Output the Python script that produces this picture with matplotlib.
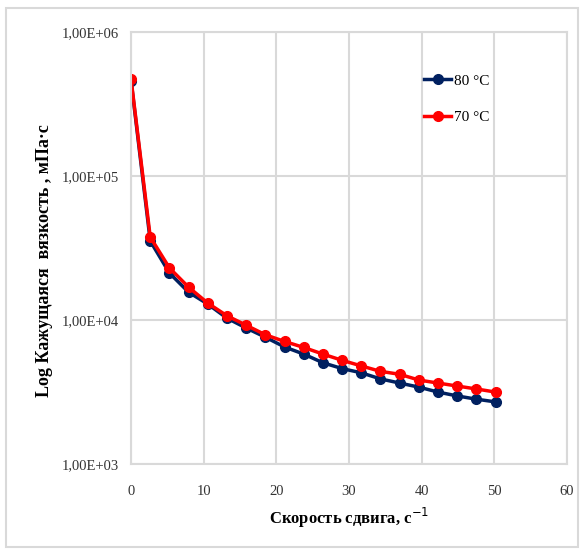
import numpy as np
import matplotlib.pyplot as plt
from matplotlib.ticker import FuncFormatter, NullLocator, FixedLocator
from matplotlib.patches import Rectangle

# shear rate, 1/s
shear = [0.01, 2.65, 5.29, 7.93, 10.57, 13.21, 15.85, 18.49, 21.13, 23.77,
         26.41, 29.05, 31.69, 34.33, 36.97, 39.61, 42.25, 44.89, 47.53, 50.17]
# apparent viscosity, mPa*s
visc_80 = [4.6e5, 3.54e4, 2.12e4, 1.56e4, 1.29e4, 1.03e4, 8.8e3, 7.6e3, 6.5e3, 5.8e3,
           5.05e3, 4.6e3, 4.3e3, 3.9e3, 3.65e3, 3.42e3, 3.16e3, 2.97e3, 2.82e3, 2.70e3]
visc_70 = [4.7e5, 3.77e4, 2.30e4, 1.69e4, 1.31e4, 1.07e4, 9.2e3, 7.9e3, 7.1e3, 6.45e3,
           5.8e3, 5.25e3, 4.8e3, 4.4e3, 4.2e3, 3.83e3, 3.65e3, 3.48e3, 3.32e3, 3.16e3]

serif = ['Liberation Serif', 'DejaVu Serif']

fig = plt.figure(figsize=(5.84, 5.53), dpi=100)
ax = fig.add_axes([0.2243, 0.1609, 0.7466, 0.7812])

ax.plot(shear, visc_80, color='#002060', lw=2.5, marker='o', ms=7, label='80 °C')
ax.plot(shear, visc_70, color='#ff0000', lw=2.5, marker='o', ms=7, label='70 °C')

ax.set_yscale('log')
ax.set_xlim(0, 60)
ax.set_ylim(1e3, 1e6)
ax.xaxis.set_major_locator(FixedLocator([0, 10, 20, 30, 40, 50, 60]))
ax.yaxis.set_major_locator(FixedLocator([1e3, 1e4, 1e5, 1e6]))
ax.yaxis.set_minor_locator(NullLocator())
ax.yaxis.set_major_formatter(FuncFormatter(lambda v, p: '1,00E+%02d' % round(np.log10(v))))

ax.grid(True, color='#d9d9d9', lw=1.5)
for s in ax.spines.values():
    s.set_color('#d9d9d9')
    s.set_linewidth(1.5)
ax.tick_params(axis='y', length=0, pad=9, labelsize=10.5, labelcolor='#333333')
ax.tick_params(axis='x', length=0, pad=15, labelsize=10.5, labelcolor='#333333')
for lab in ax.get_xticklabels() + ax.get_yticklabels():
    lab.set_family(serif)

ax.set_xlabel('Скорость сдвига, с$^{-1}$', family=serif, fontsize=12, fontweight='bold', labelpad=6)
ax.set_ylabel('Log Кажущаяся  вязкость , мПа·с', family=serif, fontsize=13, fontweight='bold')
ax.yaxis.set_label_coords(-0.178, 0.47)

ax.legend(loc='upper left', bbox_to_anchor=(0.64, 0.935), frameon=False,
          prop={'family': serif, 'size': 11}, handlelength=1.8, handletextpad=0.15,
          labelspacing=1.5)

fig.patches.append(Rectangle((0.01, 0.01), 0.98, 0.975, transform=fig.transFigure,
                             fill=False, edgecolor='#d9d9d9', lw=1.5))

fig.savefig('out.png', dpi=100)
